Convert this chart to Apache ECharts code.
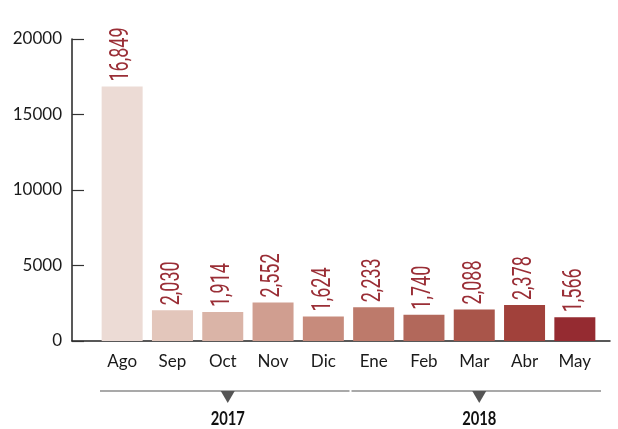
<!DOCTYPE html>
<html>
<head>
<meta charset="utf-8">
<script src="https://cdn.jsdelivr.net/npm/echarts@6/dist/echarts.min.js"></script>
<style>
  html, body { margin: 0; padding: 0; background: #fff; }
  #chart { width: 618px; height: 429px; }
</style>
</head>
<body>
<div id="chart"></div>
<script>
// Monthly totals, August 2017 – May 2018
const months = ['Ago', 'Sep', 'Oct', 'Nov', 'Dic', 'Ene', 'Feb', 'Mar', 'Abr', 'May'];
const values = [16849, 2030, 1914, 2552, 1624, 2233, 1740, 2088, 2378, 1566];
const barColors = ['#ecdbd5', '#e3c6bb', '#dab4a7', '#d09e90', '#c78b7c', '#bd7a6b', '#b2685b', '#a9554a', '#a1413b', '#952b31'];

// Year groups shown under the month labels
const yearLabels = ['2017', '2018'];
const yearFirstMonth = ['Ago', 'Ene'];
const yearLastMonth = ['Dic', 'May'];

// Value axis ticks
const yMin = 0, yMax = 20000, yStep = 5000;

const fmtThousands = v => Number(v).toLocaleString('en-US');

const chart = echarts.init(document.getElementById('chart'));

const option = {
  animation: false,
  backgroundColor: '#fff',
  grid: [
    { left: 97, right: 18, top: 39, bottom: 88 },
    { left: 72, right: 8, top: 39, bottom: 88 }
  ],
  xAxis: [
    {
      type: 'category', gridIndex: 0, data: months,
      axisLine: { show: false }, axisTick: { show: false },
      axisLabel: { color: '#1a1a1a', fontFamily: 'Lato', fontSize: 17, margin: 12 }
    },
    {
      type: 'value', gridIndex: 1, min: 0, max: 1,
      axisLine: { show: true, lineStyle: { color: '#222', width: 1.5 } },
      axisTick: { show: false }, axisLabel: { show: false }, splitLine: { show: false }
    }
  ],
  yAxis: [
    { type: 'value', gridIndex: 0, min: yMin, max: yMax, interval: yStep, show: false },
    {
      type: 'value', gridIndex: 1, min: yMin, max: yMax, interval: yStep,
      axisLine: { show: true, lineStyle: { color: '#222', width: 1.5 } },
      axisTick: { show: true, inside: true, length: 12, lineStyle: { color: '#333', width: 1.2 } },
      axisLabel: {
        color: '#1a1a1a', fontFamily: 'Lato', fontSize: 17, margin: 10, padding: [4, 0, 0, 0],
        formatter: v => String(v)
      },
      splitLine: { show: false }
    }
  ],
  series: [
    {
      type: 'bar',
      xAxisIndex: 0, yAxisIndex: 0,
      barWidth: 41,
      data: values.map((v, i) => ({ value: v, itemStyle: { color: barColors[i] } }))
    },
    {
      // Value labels, rotated upward above each bar and set in a narrowed face
      type: 'custom',
      xAxisIndex: 0, yAxisIndex: 0,
      silent: true,
      data: values.map((v, i) => [i, v]),
      renderItem: (params, api) => {
        const p = api.coord([api.value(0), api.value(1)]);
        return {
          type: 'text',
          x: p[0], y: p[1] - 5,
          rotation: Math.PI / 2,
          scaleX: 0.72,
          style: {
            text: fmtThousands(api.value(1)),
            font: '25px Roboto',
            fill: '#9a2e36',
            align: 'left',
            verticalAlign: 'middle'
          }
        };
      }
    }
  ]
};

chart.setOption(option);

// Year brackets: a rule, a down-pointing marker and the year, placed from the category scale
function yearGraphics() {
  const bw = chart.convertToPixel({ xAxisIndex: 0 }, months[1]) - chart.convertToPixel({ xAxisIndex: 0 }, months[0]);
  const lineY = 391;
  const els = [];
  yearLabels.forEach((yr, k) => {
    const x0 = chart.convertToPixel({ xAxisIndex: 0 }, yearFirstMonth[k]) - bw / 2 + 3;
    const x1 = chart.convertToPixel({ xAxisIndex: 0 }, yearLastMonth[k]) + bw / 2 + 1;
    const mid = (x0 + x1) / 2 + 3;
    els.push({
      type: 'line', silent: true,
      shape: { x1: x0, y1: lineY, x2: x1, y2: lineY },
      style: { stroke: '#8c8c8c', lineWidth: 1.5 }
    });
    els.push({
      type: 'polygon', silent: true,
      shape: { points: [[mid - 7, lineY], [mid + 7, lineY], [mid, lineY + 12]] },
      style: { fill: '#555' }
    });
    els.push({
      type: 'text', silent: true,
      x: mid, y: 419, scaleX: 0.82,
      style: {
        text: yr, fill: '#111', font: 'bold 18px Lato',
        align: 'center', verticalAlign: 'middle'
      }
    });
  });
  return els;
}

chart.setOption({ graphic: yearGraphics() });
</script>
</body>
</html>
